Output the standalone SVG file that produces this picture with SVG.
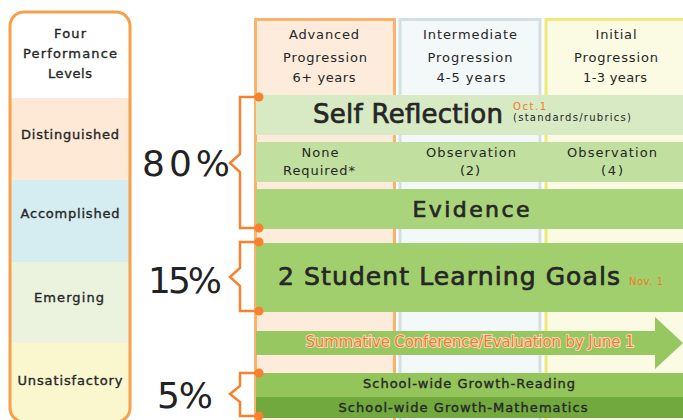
<svg xmlns="http://www.w3.org/2000/svg" width="683" height="420" viewBox="0 0 683 420">
<style>
.t{font-family:"DejaVu Sans","Liberation Sans",sans-serif;fill:#262626;text-anchor:middle}
.st{text-anchor:start}
.s13{font-size:13px}
.lv{font-size:13px;stroke:#262626;stroke-width:0.35}
.big{stroke:#262626;stroke-width:0.7}
.pct{font-size:36px;fill:#222}
.or{fill:#F47A2A}
.br{fill:none;stroke:#F4822F;stroke-width:2.5;stroke-linejoin:miter}
.dot{fill:#F4822F}
</style>
<defs>
<clipPath id="pc"><rect x="10" y="12" width="120" height="410" rx="14"/></clipPath>
</defs>
<rect width="683" height="420" fill="#fff"/>

<g id="levels-panel">
<g clip-path="url(#pc)">
<rect x="10" y="12" width="120" height="86" fill="#fff"/>
<rect x="10" y="98" width="120" height="82" fill="#FDE9D6"/>
<rect x="10" y="180" width="120" height="82" fill="#D5ECF0"/>
<rect x="10" y="262" width="120" height="81" fill="#EBF3DE"/>
<rect x="10" y="343" width="120" height="80" fill="#FAF7CF"/>
</g>
<rect x="10" y="12" width="120" height="410" rx="14" fill="none" stroke="#F7A04A" stroke-width="3"/>
<text class="t lv" x="70" y="38" textLength="32">Four</text>
<text class="t lv" x="70" y="58" textLength="94">Performance</text>
<text class="t lv" x="70" y="78" textLength="44">Levels</text>
<text class="t lv" x="70" y="139" textLength="98">Distinguished</text>
<text class="t lv" x="70" y="218" textLength="99">Accomplished</text>
<text class="t lv" x="69" y="302" textLength="70">Emerging</text>
<text class="t lv" x="70" y="385" textLength="105">Unsatisfactory</text>
</g>

<g id="col-advanced">
<rect x="255.5" y="19.5" width="139" height="410" fill="#FDEBDC" stroke="#FAB26C" stroke-width="3"/>
<text class="t s13" x="324" y="39" textLength="70">Advanced</text>
<text class="t s13" x="325" y="62" textLength="84">Progression</text>
<text class="t s13" x="324" y="82" textLength="63">6+ years</text>
</g>
<g id="col-intermediate">
<rect x="400" y="19.5" width="140" height="410" fill="#F3F8F9" stroke="#D0E0E3" stroke-width="3"/>
<text class="t s13" x="470" y="39" textLength="94">Intermediate</text>
<text class="t s13" x="470" y="62" textLength="85">Progression</text>
<text class="t s13" x="471" y="82" textLength="69">4-5 years</text>
</g>
<g id="col-initial">
<rect x="546" y="19.5" width="150" height="410" fill="#FBFAE2" stroke="#EDE97C" stroke-width="3"/>
<text class="t s13" x="616" y="39" textLength="41">Initial</text>
<text class="t s13" x="616" y="62" textLength="84">Progression</text>
<text class="t s13" x="615" y="82" textLength="64">1-3 years</text>
</g>

<g id="band-self-reflection">
<rect x="256" y="95" width="427" height="40" fill="#D7EAC4"/>
<text class="t big" x="408" y="123" font-size="26" textLength="190">Self Reflection</text>
<text class="t st or" x="513" y="110" font-size="10" textLength="33">Oct.1</text>
<text class="t st" x="513" y="121" font-size="10" textLength="118">(standards/rubrics)</text>
</g>

<g id="band-observation">
<rect x="256" y="142" width="427" height="40" fill="#C1DF9F"/>
<text class="t s13" x="320" y="157" textLength="37">None</text>
<text class="t s13" x="319" y="175" textLength="72">Required*</text>
<text class="t s13" x="471" y="157" textLength="90">Observation</text>
<text class="t s13" x="470" y="175" textLength="20">(2)</text>
<text class="t s13" x="612" y="157" textLength="90">Observation</text>
<text class="t s13" x="612" y="175" textLength="22">(4)</text>
</g>

<g id="band-evidence">
<rect x="256" y="189" width="427" height="40" fill="#AAD47B"/>
<text class="t big" x="471" y="217" font-size="22" textLength="117">Evidence</text>
</g>

<g id="band-goals">
<rect x="256" y="243" width="427" height="69" fill="#A2CF6E"/>
<text class="t big" x="449" y="285" font-size="25" textLength="342">2 Student Learning Goals</text>
<text class="t st or" x="629" y="285" font-size="10" textLength="34">Nov. 1</text>
</g>

<g id="arrow-summative">
<polygon points="256,331 655,331 655,317 683,343 655,369 655,355 256,355" fill="#96C761"/>
<text class="t or" x="470" y="347" font-size="15" textLength="329" stroke="#FCE3CC" stroke-width="1.6" paint-order="stroke">Summative Conference/Evaluation by June 1</text>
</g>

<g id="band-reading">
<rect x="256" y="373" width="427" height="24" fill="#93C55A"/>
<text class="t lv" x="469" y="388" textLength="212">School-wide Growth-Reading</text>
</g>
<g id="band-math">
<rect x="256" y="397" width="427" height="21" fill="#71A93E"/>
<text class="t lv" x="463" y="412" textLength="249">School-wide Growth-Mathematics</text>
</g>

<g id="percentages">
<text class="t pct" x="186" y="176" textLength="88">80%</text>
<text class="t pct" x="185" y="293" textLength="74">15%</text>
<text class="t pct" x="185" y="408" textLength="56">5%</text>
</g>

<g id="connectors">
<path class="br" d="M259,97 H240 V154 L230,163 L240,172 V228 H259"/>
<path class="br" d="M259,242 H240 V268 L230,277 L240,286 V311 H259"/>
<path class="br" d="M259,373 H240 V386 L230,394 L240,402 V416 H259"/>
<circle class="dot" cx="259" cy="97" r="4.5"/>
<circle class="dot" cx="259" cy="228" r="4.5"/>
<circle class="dot" cx="259" cy="242" r="4.5"/>
<circle class="dot" cx="259" cy="311" r="4.5"/>
<circle class="dot" cx="259" cy="373" r="4.5"/>
<circle class="dot" cx="259" cy="416" r="4.5"/>
</g>
</svg>
